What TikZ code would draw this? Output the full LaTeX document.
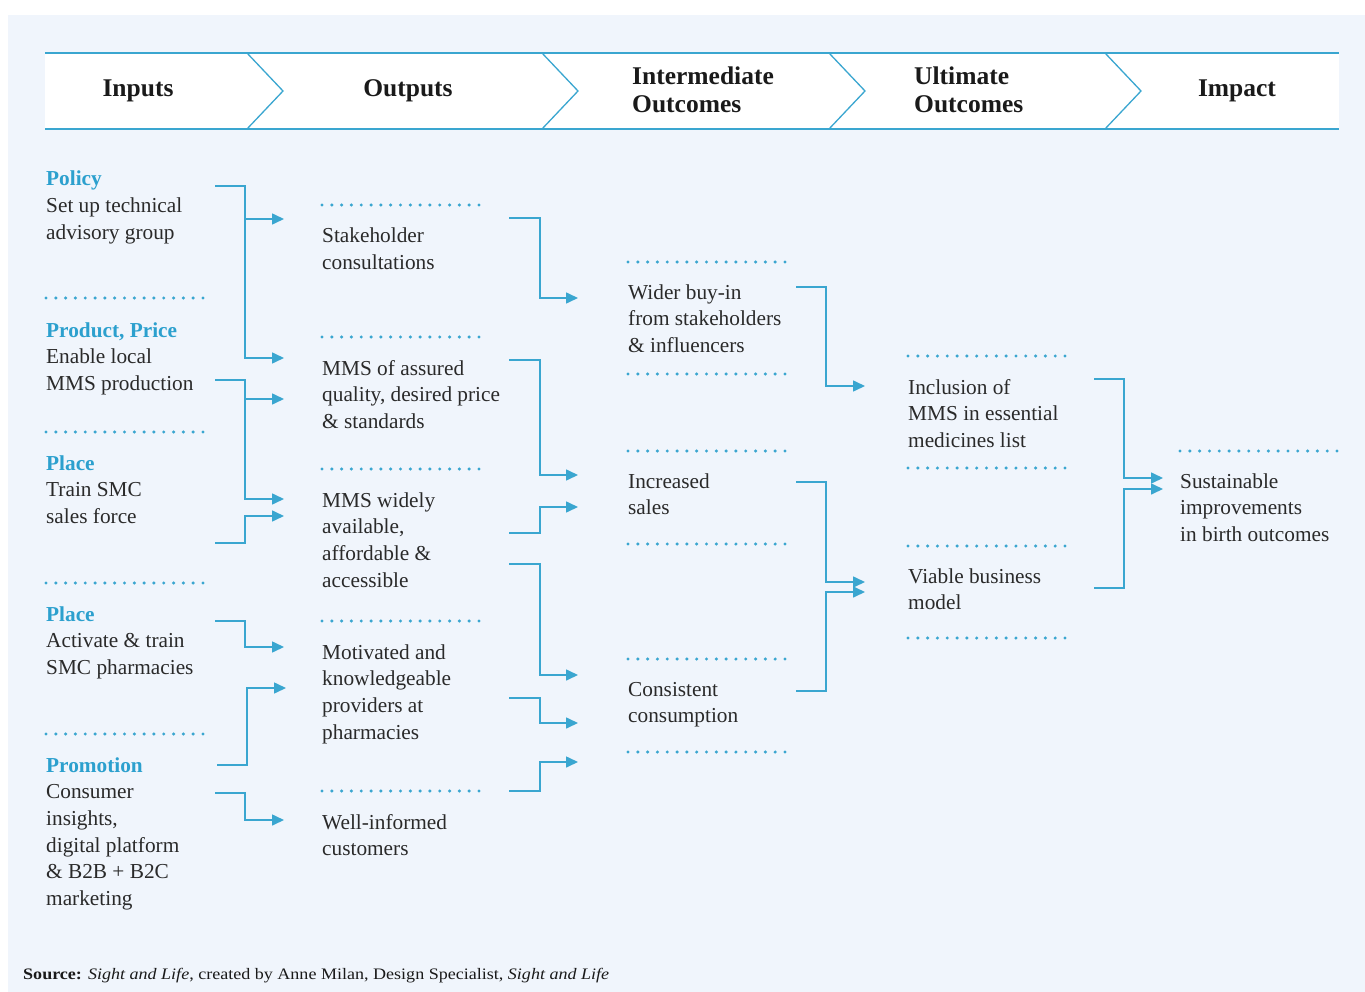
\documentclass[tikz,border=0pt]{standalone}
\usepackage{fontspec}
\usepackage{graphicx}
\setmainfont{Liberation Serif}
\usetikzlibrary{arrows.meta}

\definecolor{lineblue}{RGB}{58,166,208}
\definecolor{headblue}{RGB}{44,160,206}
\definecolor{panel}{RGB}{240,245,252}
\definecolor{bodytext}{RGB}{42,42,42}
\definecolor{titletext}{RGB}{26,26,26}

% a block of left-aligned lines whose baseline is that of its first line
\newcommand\blocklines[1]{\begin{tabular}[t]{@{}l@{}}#1\end{tabular}}
\newcommand\blockhead[1]{\textbf{\color{headblue}#1}}

\begin{document}
\begin{tikzpicture}[x=1pt,y=-1pt,
  link/.style={draw=lineblue, line width=1.6pt, -{Triangle[length=12pt,width=11pt]}},
  dotrule/.style={draw=lineblue, line width=3.4pt, line cap=round, dash pattern=on 0pt off 9.8125pt},
  body/.style={anchor=base west, inner sep=0pt, text=bodytext,
    font=\fontsize{21.3}{26.7}\selectfont},
  headtxt/.style={inner sep=0pt, text=titletext,
    font=\fontsize{25.5}{28}\selectfont\bfseries},
]
\useasboundingbox (0,0) rectangle (1365,992);
\fill[panel] (8,15) rectangle (1365,992);

% ---- header band with chevrons ----
\fill[white] (45,53) rectangle (1339,129);
\draw[lineblue, line width=1.5pt] (45,53) -- (1339,53);
\draw[lineblue, line width=1.5pt] (45,129) -- (1339,129);
\foreach \cx in {247,542,829,1105}
  \draw[lineblue, line width=1.3pt, line join=miter] (\cx,53) -- (\cx+36,91) -- (\cx,129);

\node[headtxt, anchor=base] (hInputs) at (138,97) {Inputs};
\node[headtxt, anchor=base] (hOutputs) at (408,97) {Outputs};
\node[headtxt, anchor=base west] (hInter) at (632,85) {\blocklines{Intermediate\\Outcomes}};
\node[headtxt, anchor=base west] (hUlt) at (914,85) {\blocklines{Ultimate\\Outcomes}};
\node[headtxt, anchor=base] (hImpact) at (1237,97) {Impact};

% ---- inputs ----
\node[body] (policy) at (46,186) {\blocklines{\blockhead{Policy}\\Set up technical\\advisory group}};
\draw[dotrule] (46,298) -- (203,298);
\node[body] (product) at (46,337) {\blocklines{\blockhead{Product, Price}\\Enable local\\MMS production}};
\draw[dotrule] (46,432) -- (203,432);
\node[body] (placeA) at (46,470) {\blocklines{\blockhead{Place}\\Train SMC\\sales force}};
\draw[dotrule] (46,583) -- (203,583);
\node[body] (placeB) at (46,621) {\blocklines{\blockhead{Place}\\Activate \& train\\SMC pharmacies}};
\draw[dotrule] (46,734) -- (203,734);
\node[body] (promo) at (46,772) {\blocklines{\blockhead{Promotion}\\Consumer\\insights,\\digital platform\\\& B2B + B2C\\marketing}};

% ---- outputs ----
\draw[dotrule] (322,205) -- (479,205);
\node[body] (stake) at (322,243) {\blocklines{Stakeholder\\consultations}};
\draw[dotrule] (322,337) -- (479,337);
\node[body] (quality) at (322,375) {\blocklines{MMS of assured\\quality, desired price\\\& standards}};
\draw[dotrule] (322,469) -- (479,469);
\node[body] (avail) at (322,507) {\blocklines{MMS widely\\available,\\affordable \&\\accessible}};
\draw[dotrule] (322,621) -- (479,621);
\node[body] (motiv) at (322,659) {\blocklines{Motivated and\\knowledgeable\\providers at\\pharmacies}};
\draw[dotrule] (322,791) -- (479,791);
\node[body] (informed) at (322,829) {\blocklines{Well-informed\\customers}};

% ---- intermediate outcomes ----
\draw[dotrule] (628,262) -- (785,262);
\node[body] (buyin) at (628,299) {\blocklines{Wider buy-in\\from stakeholders\\\& influencers}};
\draw[dotrule] (628,374) -- (785,374);
\draw[dotrule] (628,451) -- (785,451);
\node[body] (sales) at (628,488) {\blocklines{Increased\\sales}};
\draw[dotrule] (628,544) -- (785,544);
\draw[dotrule] (628,659) -- (785,659);
\node[body] (consum) at (628,696) {\blocklines{Consistent\\consumption}};
\draw[dotrule] (628,752) -- (785,752);

% ---- ultimate outcomes ----
\draw[dotrule] (908,356) -- (1065,356);
\node[body] (eml) at (908,394) {\blocklines{Inclusion of\\MMS in essential\\medicines list}};
\draw[dotrule] (908,468) -- (1065,468);
\draw[dotrule] (908,546) -- (1065,546);
\node[body] (viable) at (908,583) {\blocklines{Viable business\\model}};
\draw[dotrule] (908,638) -- (1065,638);

% ---- impact ----
\draw[dotrule] (1180,451) -- (1337,451);
\node[body] (impact) at (1180,488) {\blocklines{Sustainable\\improvements\\in birth outcomes}};

% ---- connector anchors ----
\coordinate (busA) at (245,0);
\coordinate (busAb) at (247,0);
\coordinate (busB) at (540,0);
\coordinate (busC) at (826,0);
\coordinate (busD) at (1124,0);

\coordinate (policyOut) at (215,186);
\coordinate (productOut) at (215,380);
\coordinate (placeAOut) at (215,543);
\coordinate (placeBOut) at (215,621);
\coordinate (promoOutA) at (217,765);
\coordinate (promoOutB) at (215,793);

\coordinate (stakeIn) at (284,219);
\coordinate (qualityIn) at (284,358);
\coordinate (qualityInB) at (284,399);
\coordinate (availInA) at (284,499);
\coordinate (availInB) at (284,516);
\coordinate (motivInA) at (284,647);
\coordinate (motivInB) at (286,688);
\coordinate (informedIn) at (284,820);

\coordinate (stakeOut) at (509,218);
\coordinate (qualityOut) at (509,360);
\coordinate (availOutA) at (509,533);
\coordinate (availOutB) at (509,564);
\coordinate (motivOut) at (509,698);
\coordinate (informedOut) at (509,791);

\coordinate (buyinIn) at (578,298);
\coordinate (salesInA) at (578,475);
\coordinate (salesInB) at (578,507);
\coordinate (consumInA) at (578,675);
\coordinate (consumInB) at (578,723);
\coordinate (consumInC) at (578,762);

\coordinate (buyinOut) at (796,287);
\coordinate (salesOut) at (796,482);
\coordinate (consumOut) at (796,691);

\coordinate (emlIn) at (865,386);
\coordinate (viableInA) at (865,582);
\coordinate (viableInB) at (865,592);

\coordinate (emlOut) at (1094,379);
\coordinate (viableOut) at (1094,588);
\coordinate (impactInA) at (1163,478);
\coordinate (impactInB) at (1163,489);

% ---- connectors: inputs to outputs ----
\draw[link] (policyOut) -| (busA |- qualityIn) -- (qualityIn);
\draw[link] (busA |- stakeIn) -- (stakeIn);
\draw[link] (productOut) -| (busA |- availInA) -- (availInA);
\draw[link] (busA |- qualityInB) -- (qualityInB);
\draw[link] (placeAOut) -| (busA |- availInB) -- (availInB);
\draw[link] (placeBOut) -| (busA |- motivInA) -- (motivInA);
\draw[link] (promoOutA) -| (busAb |- motivInB) -- (motivInB);
\draw[link] (promoOutB) -| (busA |- informedIn) -- (informedIn);

% ---- outputs to intermediate outcomes ----
\draw[link] (stakeOut) -| (busB |- buyinIn) -- (buyinIn);
\draw[link] (qualityOut) -| (busB |- salesInA) -- (salesInA);
\draw[link] (availOutA) -| (busB |- salesInB) -- (salesInB);
\draw[link] (availOutB) -| (busB |- consumInA) -- (consumInA);
\draw[link] (motivOut) -| (busB |- consumInB) -- (consumInB);
\draw[link] (informedOut) -| (busB |- consumInC) -- (consumInC);

% ---- intermediate to ultimate outcomes ----
\draw[link] (buyinOut) -| (busC |- emlIn) -- (emlIn);
\draw[link] (salesOut) -| (busC |- viableInA) -- (viableInA);
\draw[link] (consumOut) -| (busC |- viableInB) -- (viableInB);

% ---- ultimate outcomes to impact ----
\draw[link] (emlOut) -| (busD |- impactInA) -- (impactInA);
\draw[link] (viableOut) -| (busD |- impactInB) -- (impactInB);

% ---- source line ----
\node[anchor=base west, inner sep=0pt, text=titletext, font=\fontsize{16}{19}\selectfont] (source) at (23,979)
  {\resizebox{586pt}{\height}{\textbf{Source:} \textit{Sight and Life}, created by Anne Milan, Design Specialist, \textit{Sight and Life}}};
\end{tikzpicture}
\end{document}
